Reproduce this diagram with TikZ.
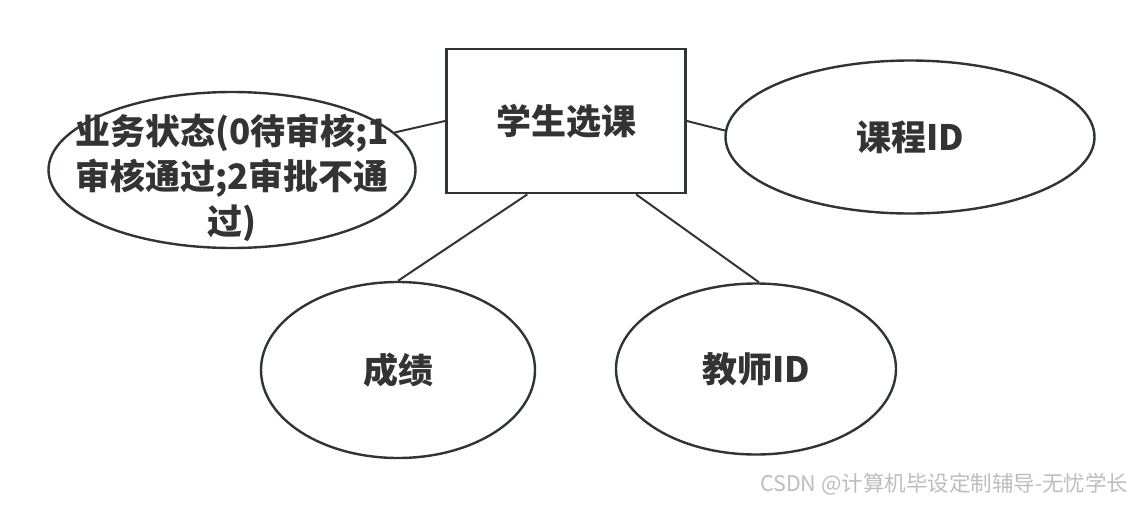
\documentclass[tikz,border=0pt]{standalone}
\usepackage{fontspec}
\setmainfont{Noto Sans CJK SC}
\usepackage{tikz}
\usetikzlibrary{shapes.geometric, positioning, calc}
\usepackage{xcolor}
\definecolor{inkgray}{HTML}{333333}
\definecolor{framegray}{HTML}{2F3438}
\definecolor{markgray}{HTML}{BDBDBD}

\tikzset{
    entity/.style={draw=framegray, line width=2.8pt, fill=white, minimum width=239pt, minimum height=144pt, inner sep=0pt},
    attr/.style={ellipse, draw=framegray, line width=2.4pt, fill=white, inner sep=0pt},
    lbl/.style={text=inkgray, font=\fontsize{35}{45}\selectfont\bfseries, align=center},
    link/.style={draw=inkgray, line width=2pt}
}

\begin{document}
\begin{tikzpicture}[x=1pt, y=-1pt]
    \useasboundingbox (0,0) rectangle (1144,504);

    % entity
    \node[entity, lbl] (sel) at (566,121) {学生选课};

    % attributes
    \node[attr, minimum width=367pt, minimum height=156pt, label={[lbl, yshift=-8pt]center:业务状态(0待审核;1\\审核通过;2审批不通\\过)}] (state) at (232,170) {};
    \node[attr, lbl, minimum width=369pt, minimum height=153pt] (course) at (910,137) {课程ID};
    \node[attr, lbl, minimum width=274pt, minimum height=176pt] (score) at (398,370) {成绩};
    \node[attr, lbl, minimum width=280pt, minimum height=171pt] (teacher) at (756,369) {教师ID};

    % connectors
    \draw[link] (state.13) -- (sel.west);
    \draw[link] (sel.east) -- (course.178);
    \draw[link] ($(sel.south west)!0.34!(sel.south east)$) -- (score.north);
    \draw[link] ($(sel.south west)!0.79!(sel.south east)$) -- (teacher.88);

    % watermark
    \node[text=markgray, font=\fontsize{21.5}{24}\selectfont, anchor=east] (mark) at (1132,484) {CSDN @计算机毕设定制辅导-无忧学长};
\end{tikzpicture}
\end{document}
